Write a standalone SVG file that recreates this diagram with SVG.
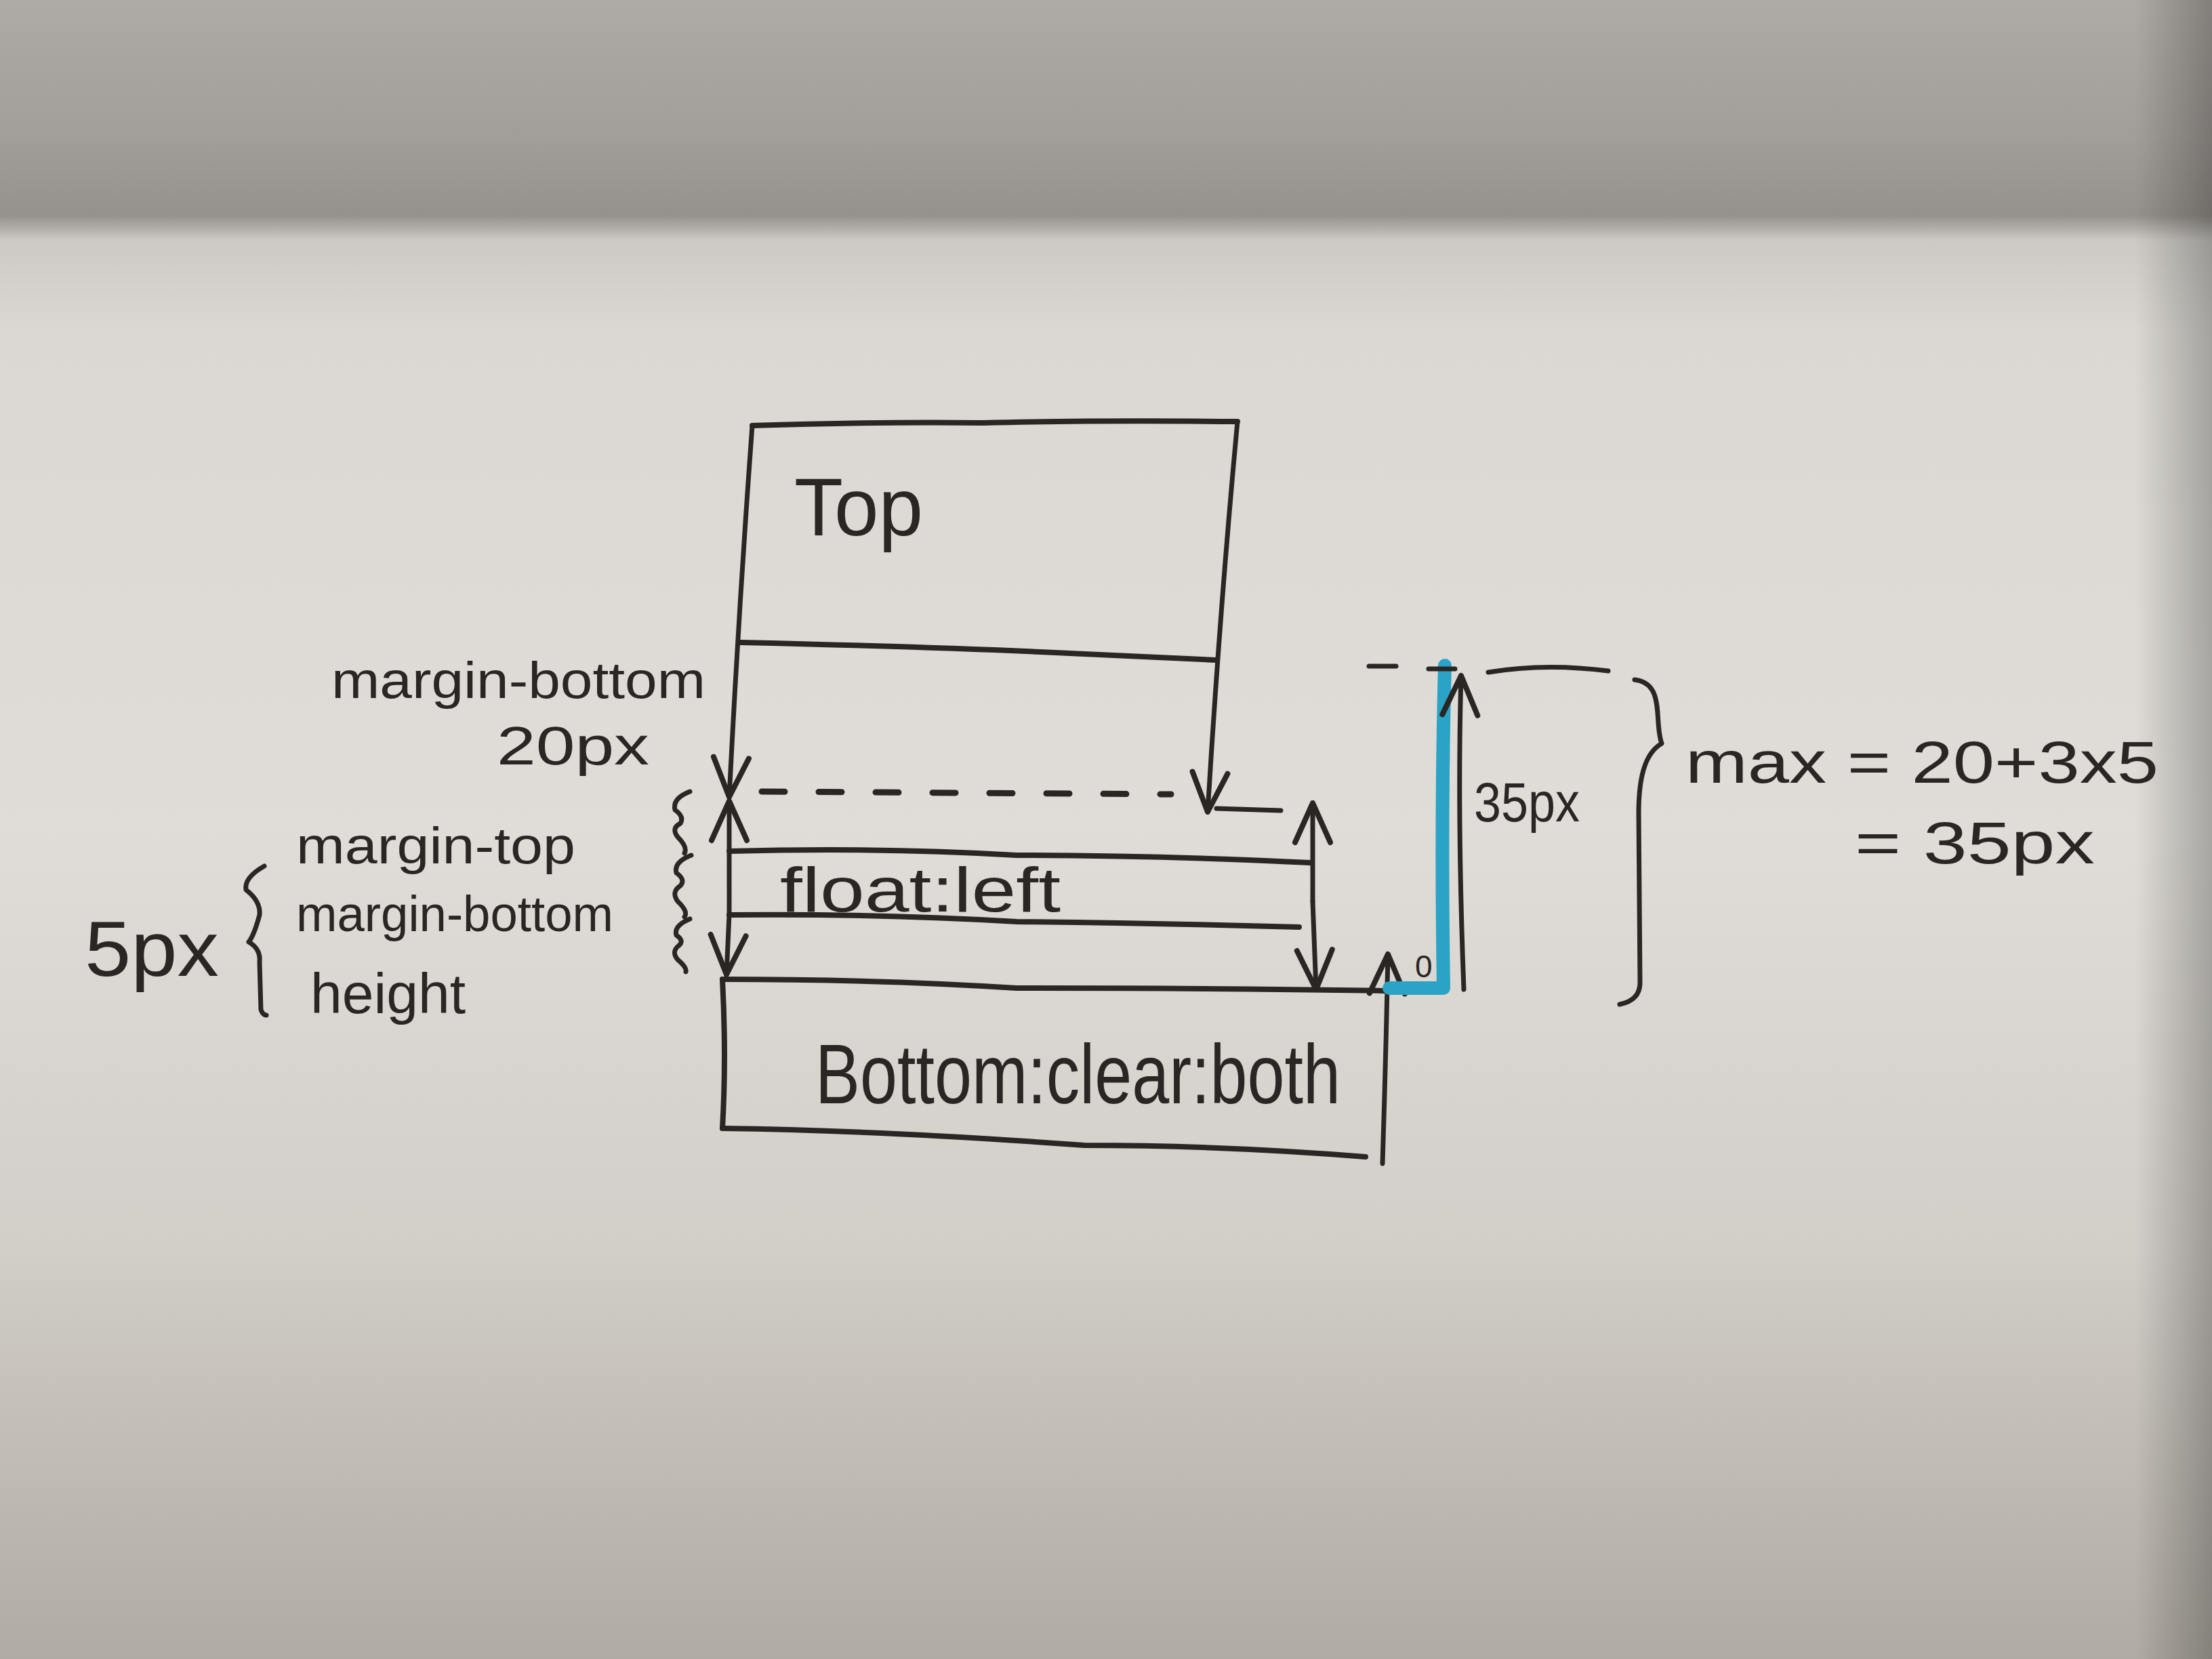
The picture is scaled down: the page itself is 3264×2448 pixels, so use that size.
<svg xmlns="http://www.w3.org/2000/svg" width="3264" height="2448" viewBox="0 0 3264 2448">
<defs>
<linearGradient id="paper" x1="0" y1="0" x2="0" y2="1">
<stop offset="0" stop-color="#aeaaa5"/>
<stop offset="0.08" stop-color="#a29e99"/>
<stop offset="0.13" stop-color="#95918c"/>
<stop offset="0.145" stop-color="#cdcac5"/>
<stop offset="0.2" stop-color="#dbd8d3"/>
<stop offset="0.5" stop-color="#e0ddd8"/>
<stop offset="0.75" stop-color="#d2cec8"/>
<stop offset="1" stop-color="#b0aba3"/>
</linearGradient>
<linearGradient id="edge" x1="0" y1="0" x2="1" y2="0">
<stop offset="0" stop-color="#000" stop-opacity="0"/>
<stop offset="1" stop-color="#000" stop-opacity="0.25"/>
</linearGradient>
<marker id="arr" markerUnits="userSpaceOnUse" viewBox="-70 -40 80 80" refX="0" refY="0" markerWidth="80" markerHeight="80" orient="auto-start-reverse" overflow="visible">
<path d="M-58,-26 L0,0 L-58,26" fill="none" stroke="#2a2624" stroke-width="8" stroke-linecap="round" stroke-linejoin="round"/>
</marker>
<style>
.ink{fill:none;stroke:#2a2624;stroke-width:8;stroke-linecap:round;stroke-linejoin:round}
.thin{fill:none;stroke:#2a2624;stroke-width:7;stroke-linecap:round;stroke-linejoin:round}
.arrow{fill:none;stroke:#2a2624;stroke-width:7;stroke-linecap:round;marker-end:url(#arr)}
.dash{fill:none;stroke:#2a2624;stroke-width:9;stroke-dasharray:34 50;stroke-linecap:round}
.blue{fill:none;stroke:#2aa3c6;stroke-width:20;stroke-linecap:round;stroke-linejoin:round}
.t{font-family:"Liberation Sans","DejaVu Sans",sans-serif;fill:#2a2624}
</style>
</defs>
<rect x="0" y="0" width="3264" height="2448" fill="url(#paper)"/>
<rect x="3150" y="0" width="114" height="2448" fill="url(#edge)"/>

<g id="top-box">
<path class="ink" d="M1110,628 Q1300,622 1450,624 Q1600,620 1826,622"/>
<path class="ink" d="M1093,948 Q1400,955 1600,965 L1794,974"/>
<text class="t" x="1172" y="790" font-size="120" textLength="190" lengthAdjust="spacingAndGlyphs">Top</text>
</g>

<g id="float-box">
<path class="ink" d="M1076,1256 Q1300,1250 1500,1262 Q1700,1262 1933,1273"/>
<path class="ink" d="M1076,1350 Q1300,1348 1500,1360 Q1700,1362 1917,1368"/>
<text class="t" x="1151" y="1345" font-size="92" textLength="414" lengthAdjust="spacingAndGlyphs">float:left</text>
</g>

<g id="bottom-box">
<path class="ink" d="M1066,1445 Q1300,1445 1500,1458 Q1800,1458 2050,1462"/>
<path class="ink" d="M1066,1445 Q1072,1560 1066,1665"/>
<path class="ink" d="M1066,1665 Q1300,1668 1600,1690 Q1800,1690 2015,1707"/>
<text class="t" x="1203" y="1628" font-size="125" textLength="775" lengthAdjust="spacingAndGlyphs">Bottom:clear:both</text>
</g>

<g id="connectors">
<path class="arrow" d="M1110,628 Q1090,900 1076,1176"/>
<path class="arrow" d="M1826,622 Q1800,900 1782,1198"/>
<path class="thin" d="M1795,1193 L1890,1196"/>
<path class="dash" d="M1124,1168 L1728,1172"/>
<path class="arrow" d="M1076,1350 L1076,1182"/>
<path class="arrow" d="M1076,1350 L1072,1438"/>
<path class="arrow" d="M1937,1330 L1937,1185"/>
<path class="arrow" d="M1937,1330 L1942,1460"/>
<path class="arrow" d="M2040,1717 Q2045,1560 2048,1408"/>
<path class="blue" d="M2050,1458 L2130,1458 Q2126,1200 2132,982"/>
<path class="arrow" d="M2160,1460 Q2150,1200 2156,997"/>
<path class="thin" d="M2020,983 L2060,983 M2108,987 L2147,987 M2196,992 Q2280,978 2373,990"/>
<path class="thin" d="M2412,1003 C2458,1008 2440,1065 2452,1097 C2430,1110 2418,1140 2418,1200 L2420,1450 Q2420,1476 2390,1482"/>
<path class="thin" d="M390,1278 Q360,1295 363,1313 Q385,1330 383,1350 Q375,1380 367,1390 Q385,1400 383,1420 L385,1490 Q388,1498 393,1498"/>
<path class="thin" d="M1018,1168 Q992,1178 996,1195 Q1010,1205 1004,1215 Q990,1222 1000,1235 Q1015,1250 1010,1259"/>
<path class="thin" d="M1020,1262 Q994,1272 998,1288 Q1012,1298 1004,1307 Q990,1316 1000,1330 Q1016,1345 1010,1353"/>
<path class="thin" d="M1018,1356 Q994,1366 998,1380 Q1010,1388 1002,1395 Q990,1404 1000,1416 Q1014,1428 1012,1434"/>
</g>

<g id="labels">
<text class="t" x="489" y="1030" font-size="76" textLength="552" lengthAdjust="spacingAndGlyphs">margin-bottom</text>
<text class="t" x="733" y="1128" font-size="80" textLength="225" lengthAdjust="spacingAndGlyphs">20px</text>
<text class="t" x="437" y="1274" font-size="76" textLength="412" lengthAdjust="spacingAndGlyphs">margin-top</text>
<text class="t" x="437" y="1374" font-size="74" textLength="468" lengthAdjust="spacingAndGlyphs">margin-bottom</text>
<text class="t" x="458" y="1495" font-size="84" textLength="229" lengthAdjust="spacingAndGlyphs">height</text>
<text class="t" x="125" y="1440" font-size="115" textLength="198" lengthAdjust="spacingAndGlyphs">5px</text>
<text class="t" x="2175" y="1212" font-size="82" textLength="156" lengthAdjust="spacingAndGlyphs">35px</text>
<text class="t" x="2088" y="1442" font-size="46">0</text>
<text class="t" x="2487" y="1155" font-size="88" textLength="698" lengthAdjust="spacingAndGlyphs">max = 20+3x5</text>
<text class="t" x="2737" y="1274" font-size="88" textLength="354" lengthAdjust="spacingAndGlyphs">= 35px</text>
</g>
</svg>
